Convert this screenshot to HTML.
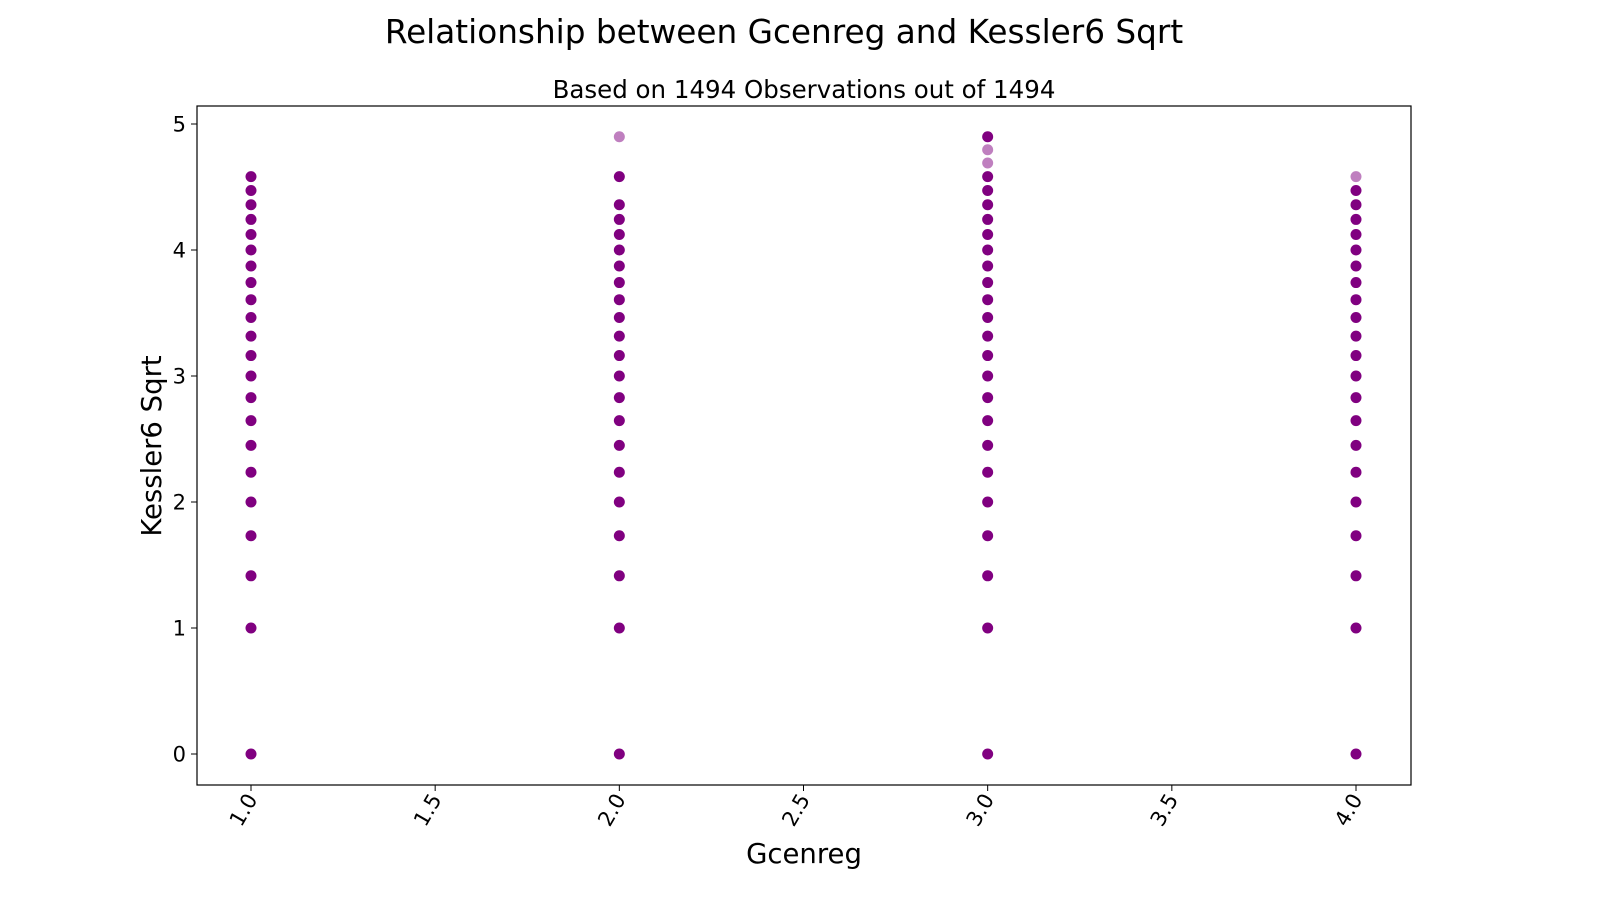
<!DOCTYPE html>
<html><head><meta charset="utf-8"><style>
body{margin:0;background:#fff;font-family:"Liberation Sans","DejaVu Sans",sans-serif;}
svg text{font-family:"DejaVu Sans","Liberation Sans",sans-serif;fill:#000;}
</style></head><body>
<svg id="chart" width="1600" height="900" xmlns="http://www.w3.org/2000/svg">
<text x="784" y="43" font-size="32.7" text-anchor="middle">Relationship between Gcenreg and Kessler6 Sqrt</text>
<text x="804" y="98" font-size="24.5" text-anchor="middle">Based on 1494 Observations out of 1494</text>
<rect x="197" y="106" width="1214" height="679" fill="none" stroke="#000" stroke-width="1.2"/>
<g id="ticks"></g>
<g id="points"></g>
<text x="804" y="863" font-size="27.5" text-anchor="middle">Gcenreg</text>
<text transform="translate(161,446) rotate(-90)" font-size="27.5" text-anchor="middle">Kessler6 Sqrt</text>
</svg>
<script>
const groups = [1, 2, 3, 4];
const k6Levels = [0,1,2,3,4,5,6,7,8,9,10,11,12,13,14,15,16,17,18,19,20,21,22,23,24];
const groupMax = [21, 24, 24, 21];
const groupMissing = [[], [20,22,23], [], []];
const groupSingles = [[], [24], [22,23], [21]];
const xTicks = [1.0,1.5,2.0,2.5,3.0,3.5,4.0];
const xTickLabels = ["1.0","1.5","2.0","2.5","3.0","3.5","4.0"];
const yTicks = [0,1,2,3,4,5];
const yTickLabels = ["0","1","2","3","4","5"];

const X = v => 251 + (v - 1) * (1356 - 251) / 3;
const Y = v => 754 - v * (754 - 124) / 5;
const NS = "http://www.w3.org/2000/svg";
const tg = document.getElementById('ticks');
xTicks.forEach((t, i) => {
  const l = document.createElementNS(NS, 'line');
  l.setAttribute('x1', X(t)); l.setAttribute('x2', X(t));
  l.setAttribute('y1', 785); l.setAttribute('y2', 791);
  l.setAttribute('stroke', '#000');
  
  
  tg.appendChild(l);
  const tx = document.createElementNS(NS, 'text');
  tx.setAttribute('font-size', '21');
  tx.setAttribute('text-anchor', 'end');
  tx.setAttribute('transform', `translate(${X(t) + 7},${799}) rotate(-60)`);
  tx.textContent = xTickLabels[i];
  
  
  tg.appendChild(tx);
});
yTicks.forEach((t, i) => {
  const l = document.createElementNS(NS, 'line');
  l.setAttribute('x1', 191); l.setAttribute('x2', 197);
  l.setAttribute('y1', Y(t)); l.setAttribute('y2', Y(t));
  l.setAttribute('stroke', '#000');
  
  
  tg.appendChild(l);
  const tx = document.createElementNS(NS, 'text');
  tx.setAttribute('font-size', '21');
  tx.setAttribute('text-anchor', 'end');
  tx.setAttribute('x', 186); tx.setAttribute('y', Y(t) + 7.5);
  tx.textContent = yTickLabels[i];
  
  
  tg.appendChild(tx);
});
const pg = document.getElementById('points');
groups.forEach((g, gi) => {
  k6Levels.forEach(k => {
    if (k > groupMax[gi] || groupMissing[gi].includes(k)) return;
    const c = document.createElementNS(NS, 'circle');
    c.setAttribute('cx', X(g));
    c.setAttribute('cy', Y(Math.sqrt(k)));
    c.setAttribute('r', 5.5);
    c.setAttribute('fill', 'purple');
    c.setAttribute('fill-opacity', groupSingles[gi].includes(k) ? 0.5 : 1);
    
    
    pg.appendChild(c);
  });
});
</script>
</body></html>
